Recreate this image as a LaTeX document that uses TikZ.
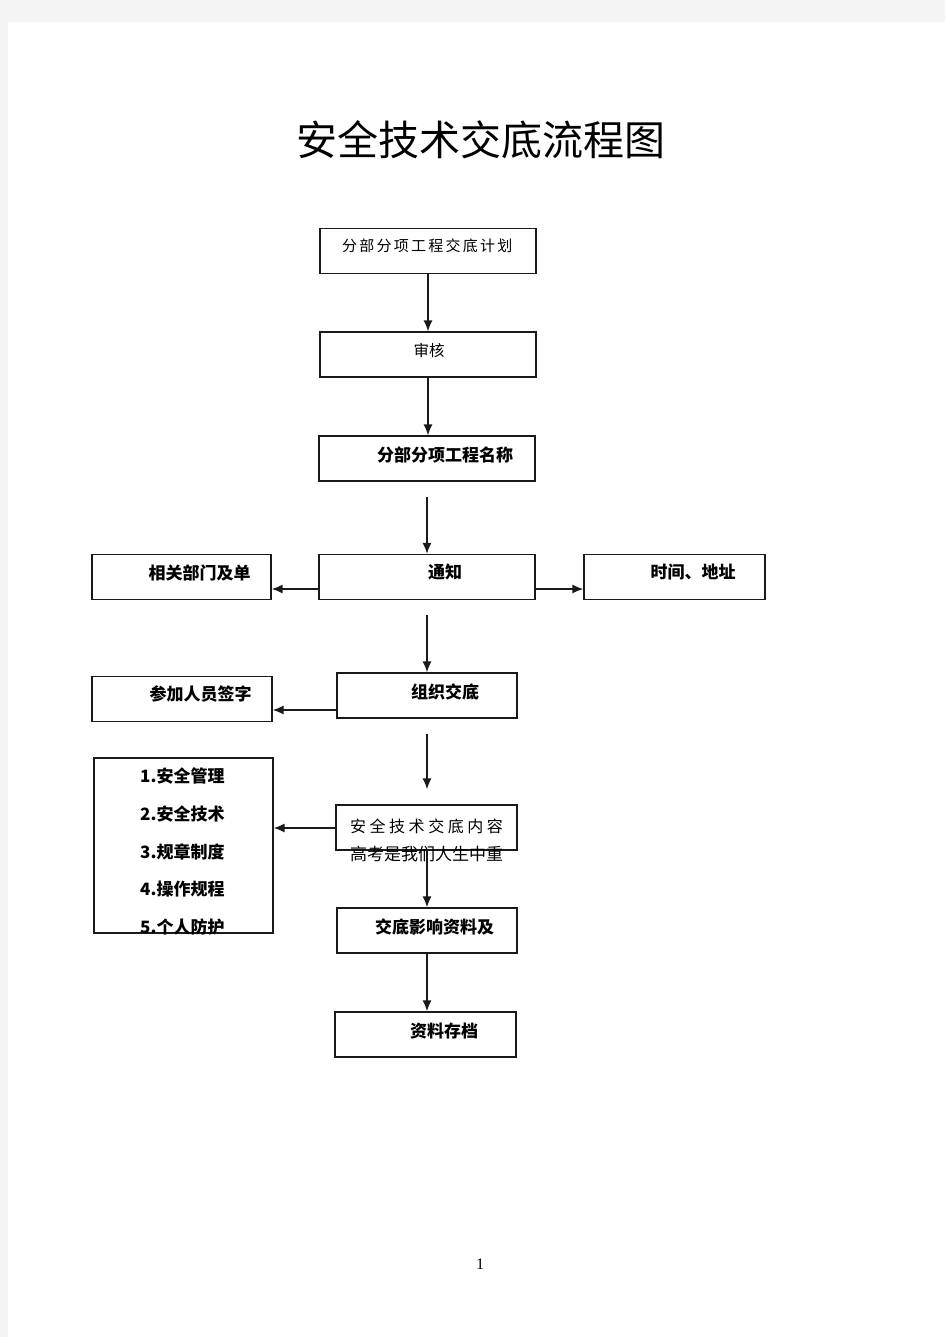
\documentclass[tikz,border=0pt]{standalone}
\usepackage{fontspec}
\setmainfont{Liberation Serif}
\newfontfamily\cjk{Noto Sans CJK SC}
\newfontfamily\cjkA[LetterSpace=15]{Noto Sans CJK SC}
\newfontfamily\cjkB[LetterSpace=22]{Noto Sans CJK SC}
\usetikzlibrary{arrows.meta}
\definecolor{pagegray}{HTML}{F4F4F4}
\definecolor{ink}{HTML}{1A1A1A}
\tikzset{
  box/.style={draw=ink, line width=1.3pt, minimum width=#1, minimum height=45, inner sep=0, fill=white},
  box/.default=180,
  txt/.style={font=\cjk\fontsize{17}{17}\selectfont\bfseries, inner sep=0, text=black},
  thin/.style={font=\cjk\fontsize{15.5}{15.5}\selectfont, inner sep=0, text=black},
  arr/.style={draw=ink, line width=1.4pt, -{Latex[length=11pt,width=9pt]}},
}
\begin{document}
\begin{tikzpicture}[x=1pt,y=-1pt]
\useasboundingbox (0,0) rectangle (945,1337);
\fill[pagegray] (0,0) rectangle (945,1337);
\fill[white] (8,22) rectangle (945,1337);

\node[font=\cjk\fontsize{41}{41}\selectfont, inner sep=0] (title) at (481,140) {安全技术交底流程图};

% main column
\node[box=216] (n1) at (428,251) {};
\node[thin, font=\cjkA\fontsize{15}{15}\selectfont, anchor=west] (t1) at (342,246) {分部分项工程交底计划};
\node[box=216] (n2) at (428,354.5) {};
\node[thin] (t2) at (429,351) {审核};
\node[box=216] (n3) at (427,458.5) {};
\node[txt] (t3) at (445,455) {分部分项工程名称};
\node[box=216] (n4) at (427,577) {};
\node[txt] (t4) at (445,572) {通知};
\node[box=179] (l1) at (181.5,577) {};
\node[txt] (tl1) at (199.5,573) {相关部门及单};
\node[box=181] (r1) at (674.5,577) {};
\node[txt] (tr1) at (693,572) {时间、地址};
\node[box=180] (n5) at (427,695.5) {};
\node[txt] (t5) at (445,692) {组织交底};
\node[box=180] (p1) at (182,699) {};
\node[txt] (tp1) at (200.5,694) {参加人员签字};

\node[box=179, minimum height=175] (list) at (183.5,845.5) {};
\node[txt, anchor=west] (i1) at (140,776) {1.安全管理};
\node[txt, anchor=west] (i2) at (140,814) {2.安全技术};
\node[txt, anchor=west] (i3) at (140,852) {3.规章制度};
\node[txt, anchor=west] (i4) at (140,889) {4.操作规程};
\node[txt, anchor=west] (i5) at (140,927) {5.个人防护};

\node[box=181] (n7) at (426.5,827.5) {};
\node[thin, font=\cjkB\fontsize{16}{16}\selectfont, anchor=west] (t7) at (350,826) {安全技术交底内容};
\node[box=180] (n8) at (427,930.5) {};
\node[txt] (t8) at (434.5,927) {交底影响资料及};
\node[box=181] (n9) at (425.5,1034.5) {};
\node[txt] (t9) at (444,1031) {资料存档};

% connectors
\draw[arr] (n1.south) -- (n2.north);
\draw[arr] (n2.south) -- (n2.south |- n3.north);
\draw[arr] ([yshift=-15pt]n3.south) -- (n4.north);
\coordinate (a4l) at ([yshift=-12pt]n4.west);
\draw[arr] (a4l) -- (a4l -| l1.east);
\coordinate (a4r) at ([yshift=-12pt]n4.east);
\draw[arr] (a4r) -- (a4r -| r1.west);
\draw[arr] ([yshift=-15pt]n4.south) -- (n5.north);
\coordinate (a5l) at ([yshift=-14.5pt]n5.west);
\draw[arr] (a5l) -- (a5l -| p1.east);
\coordinate (a5d) at ([yshift=-15pt]n5.south);
\coordinate (e7) at ([yshift=15pt]n7.north);
\draw[arr] (a5d) -- (a5d |- e7);
\coordinate (a7l) at ([yshift=-0.5pt]n7.west);
\draw[arr] (a7l) -- (a7l -| list.east);
\draw[arr] (n8.north |- n7.south) -- (n8.north);
\draw[arr] (n8.south) -- (n8.south |- n9.north);

\node[font=\cjk\fontsize{17}{17}\selectfont, inner sep=0, anchor=west] (extra) at (350,854) {高考是我们人生中重};

\node[font=\fontsize{16}{16}\selectfont, inner sep=0] (pg) at (480,1264) {1};
\end{tikzpicture}
\end{document}
